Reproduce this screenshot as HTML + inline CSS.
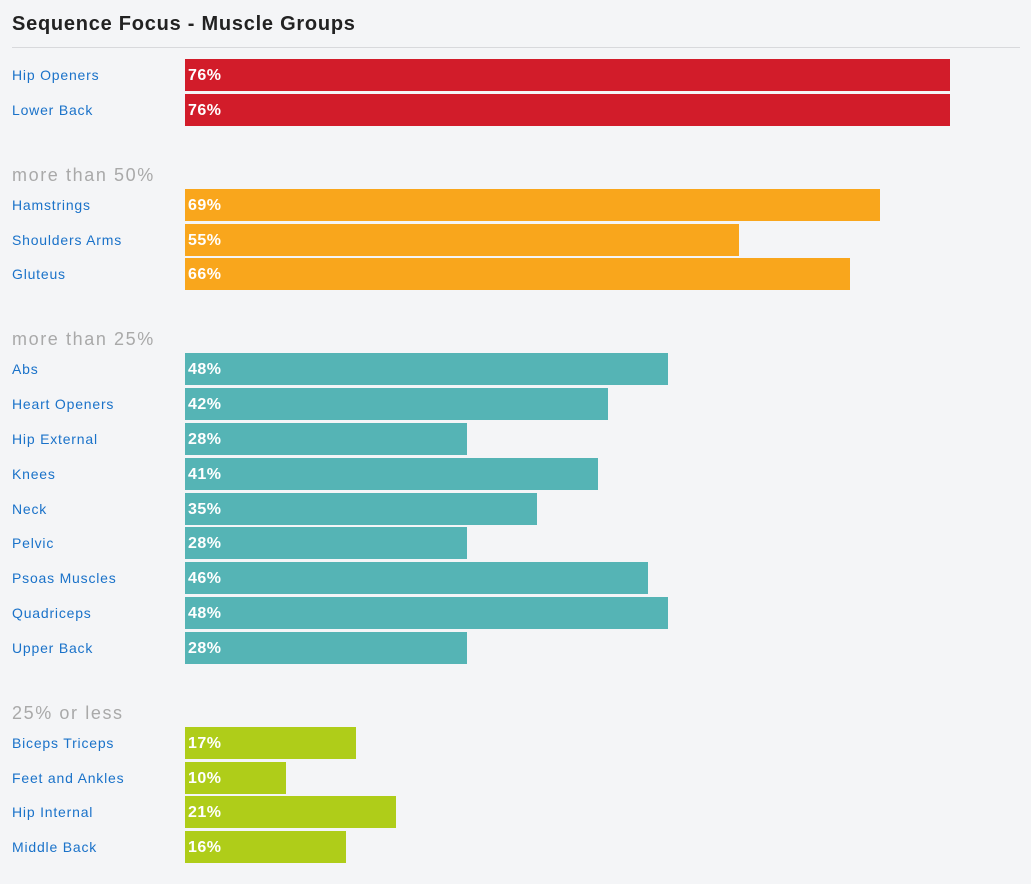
<!DOCTYPE html>
<html><head><meta charset="utf-8">
<style>
html,body{margin:0;padding:0;background:#f4f5f7;width:1031px;height:884px;overflow:hidden;font-family:"Liberation Sans",sans-serif;}
#title{position:absolute;left:12px;top:13px;font-size:20px;font-weight:bold;color:#222;letter-spacing:0.75px;}
#rule{position:absolute;left:12px;top:47px;width:1008px;height:1px;background:#d8d9dc;}
.lbl{position:absolute;left:12px;font-size:14px;color:#1a72c9;letter-spacing:0.8px;line-height:32px;}
.hdr{position:absolute;left:12px;font-size:18px;color:#a9a9a9;letter-spacing:1.6px;line-height:20px;}
.bar{position:absolute;left:185px;height:32px;}
.val{position:absolute;left:188px;font-size:16px;font-weight:bold;color:#fff;line-height:32px;letter-spacing:0.5px;padding-top:1px;}
</style></head><body>
<div id="title">Sequence Focus - Muscle Groups</div>
<div id="rule"></div>
<div id="chart"></div>
<script>
const groupTitles = ["", "more than 50%", "more than 25%", "25% or less"];
const groupColors = ["#d21c2a", "#f9a61c", "#55b4b5", "#afcd19"];
const categories = [
  ["Hip Openers","Lower Back"],
  ["Hamstrings","Shoulders Arms","Gluteus"],
  ["Abs","Heart Openers","Hip External","Knees","Neck","Pelvic","Psoas Muscles","Quadriceps","Upper Back"],
  ["Biceps Triceps","Feet and Ankles","Hip Internal","Middle Back"]
];
const values = [
  [76,76],
  [69,55,66],
  [48,42,28,41,35,28,46,48,28],
  [17,10,21,16]
];
const chart = document.getElementById('chart');
const xScale = v => v * 10.07;
const pitch = 34.8, barH = 32;
let y = 59;
for (let g = 0; g < categories.length; g++) {
  if (g > 0) {
    y += 63 - (pitch - barH);
    const h = document.createElement('div');
    h.className = 'hdr';
    h.style.top = (y - 24) + 'px';
    h.textContent = groupTitles[g];
    
    
    chart.appendChild(h);
  }
  for (let i = 0; i < categories[g].length; i++) {
    const top = Math.round(y);
    const l = document.createElement('div');
    l.className = 'lbl';
    l.style.top = top + 'px';
    l.textContent = categories[g][i];
    
    
    chart.appendChild(l);
    const b = document.createElement('div');
    b.className = 'bar';
    b.style.top = top + 'px';
    b.style.width = xScale(values[g][i]) + 'px';
    b.style.background = groupColors[g];
    
    
    chart.appendChild(b);
    const v = document.createElement('div');
    v.className = 'val';
    v.style.top = top + 'px';
    v.textContent = values[g][i] + '%';
    
    
    chart.appendChild(v);
    y += pitch;
  }
}
</script>
</body></html>
